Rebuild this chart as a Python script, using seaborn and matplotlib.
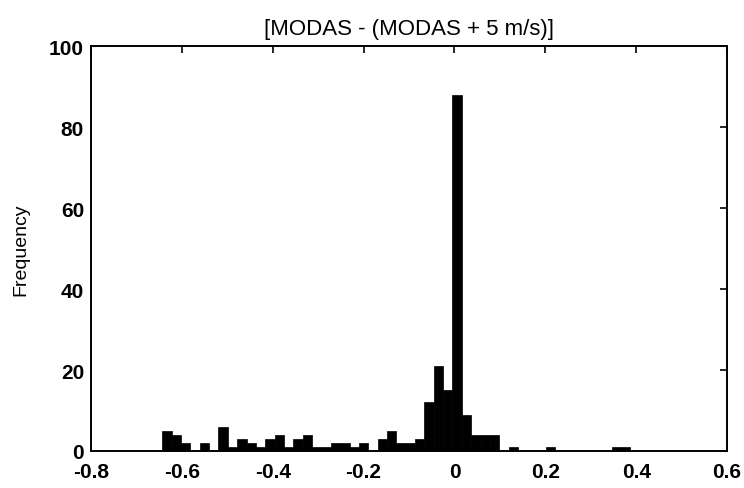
import numpy as np
import pandas as pd
import matplotlib
matplotlib.use("Agg")
import matplotlib.pyplot as plt
import seaborn as sns

# Histogram bins (50 bins between data min and max)
bin_min = -0.643
bin_max = 0.387
n_bins = 50

# Counts per bin
counts = [5, 4, 2, 0, 2, 0, 6, 1, 3, 2,
          1, 3, 4, 1, 3, 4, 1, 1, 2, 2,
          1, 2, 0, 3, 5, 2, 2, 3, 12, 21,
          15, 88, 9, 4, 4, 4, 0, 1, 0, 0,
          0, 1, 0, 0, 0, 0, 0, 0, 1, 1]

x_ticks = [-0.8, -0.6, -0.4, -0.2, 0, 0.2, 0.4, 0.6]
x_tick_labels = ["-0.8", "-0.6", "-0.4", "-0.2", "0", "0.2", "0.4", "0.6"]
y_ticks = [0, 20, 40, 60, 80, 100]

edges = np.linspace(bin_min, bin_max, n_bins + 1)
df = pd.DataFrame({"center": (edges[:-1] + edges[1:]) / 2, "count": counts})

sns.set_style("white")
plt.rcParams['font.family'] = ['Liberation Sans', 'DejaVu Sans']
plt.rcParams['text.color'] = 'black'
plt.rcParams['axes.labelcolor'] = 'black'

fig = plt.figure(figsize=(7.44, 4.89), dpi=100)
ax = fig.add_axes([0.1223, 0.0757, 0.855, 0.828])

sns.histplot(data=df, x="center", weights="count", bins=list(edges),
             color="black", edgecolor="black", linewidth=0.5, alpha=1, ax=ax)

ax.set_xlim(-0.8, 0.6)
ax.set_ylim(0, 100)
ax.set_xticks(x_ticks)
ax.set_xticklabels(x_tick_labels)
ax.set_yticks(y_ticks)
ax.tick_params(direction="in", length=5, width=1.2, top=True, right=True,
               labelsize=15, colors="black")
ax.tick_params(axis="x", pad=8)
ax.tick_params(axis="y", pad=5)
for lab in ax.get_xticklabels() + ax.get_yticklabels():
    lab.set_fontweight("bold")
for s in ax.spines.values():
    s.set_visible(True)
    s.set_linewidth(1.4)
    s.set_color("black")

ax.set_xlabel("")
ax.set_ylabel("Frequency", fontsize=14, color="black", labelpad=14)
ax.set_title("[MODAS - (MODAS + 5 m/s)]", fontsize=16, color="black", pad=9)

fig.savefig("out.png", dpi=100)
